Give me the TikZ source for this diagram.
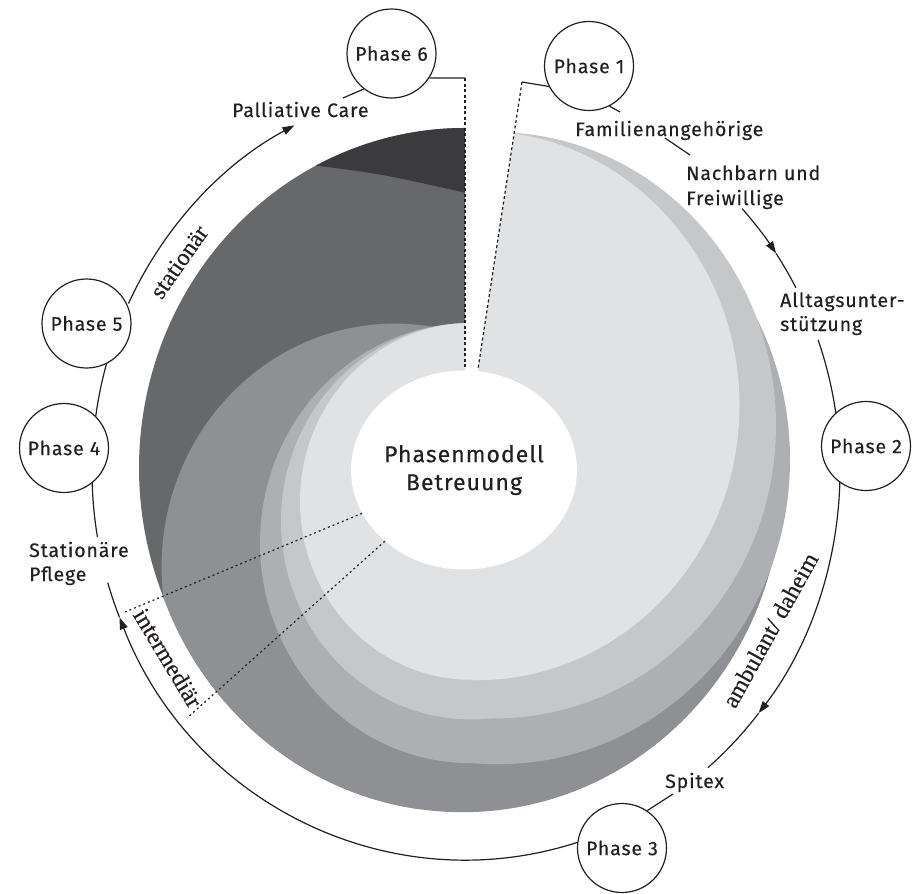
\documentclass[tikz,border=0pt]{standalone}
\usepackage{fontspec}
\usetikzlibrary{arrows.meta,shapes.geometric}
\newfontfamily\labfont[LetterSpace=4.5,FakeBold=0.35]{Fira Sans}
\newfontfamily\serfont[FakeBold=0.3]{Liberation Serif}
\definecolor{cLa}{HTML}{E1E2E4}
\definecolor{cLb}{HTML}{C6C7C9}
\definecolor{cLc}{HTML}{AEAFB2}
\definecolor{cLd}{HTML}{8F9093}
\definecolor{cLe}{HTML}{67686A}
\definecolor{cLf}{HTML}{3B3A3C}
\definecolor{ink}{HTML}{231F20}
\begin{document}
\begin{tikzpicture}[x=1pt,y=-1pt,
  phase/.style={circle,draw=ink,line width=1.2pt,fill=white,minimum size=89pt,inner sep=0pt,
    font=\labfont\fontsize{19.5}{24}\selectfont,text=ink},
  lab/.style={font=\labfont\fontsize{19.5}{24}\selectfont,text=ink,inner sep=0pt},
  ser/.style={font=\serfont\fontsize{24}{26}\selectfont,text=ink,inner sep=0pt},
  ringline/.style={draw=ink,line width=1.2pt},
  cutline/.style={draw=ink,line width=1.2pt,dash pattern=on 3pt off 2.5pt},
  dotline/.style={draw=ink,line width=1.2pt,dash pattern=on 2pt off 3pt},
  tip/.style={-{Triangle[length=12pt,width=8pt]}}
]
\useasboundingbox (0,0) rectangle (922,894);
\fill[white] (0,0) rectangle (922,894);

% ---------------- spiral ----------------
\begin{scope}[shift={(465,468)},yscale=-1.043]
  \fill[cLe] (0,326) arc[start angle=90,end angle=202.3,radius=326] -- (-70,-95) -- (0,0) -- cycle;
  \fill[cLf] (117.2:326) arc[start angle=117.2,end angle=90,radius=326] -- (0,264)
     .. controls (-84,282) .. (117.2:326) -- cycle;
  \begin{scope}
    \clip (-2.5,-10) circle[radius=320];
    \fill[cLd] (-70,-95) circle[radius=233.4];
    \fill[cLd] (-301.6,-123.7) -- (-70,-95) -- (6,0) -- (6,150) -- (400,150) -- (400,-400) -- (-400,-400) -- cycle;
  \end{scope}
  \begin{scope}
    \clip (6,-400) rectangle (400,400);
    \fill[cLc] (33,8) circle[radius=292];
  \end{scope}
  \fill[cLc] (6,-72) circle[radius=211];
  \begin{scope}
    \clip (6,-400) rectangle (400,400);
    \fill[cLb] (30,41) circle[radius=281];
  \end{scope}
  \fill[cLb] (6,-51) circle[radius=190];
  \begin{scope}
    \clip (6,-400) rectangle (400,400);
    \fill[cLa] (11,60) circle[radius=263.5];
  \end{scope}
  \fill[cLa] (6,-32) circle[radius=171];
\end{scope}

% white gap between the cuts
\fill[white] (465,60) -- (525.4,60) -- (473.2,400) -- (465,400) -- cycle;

% centre
\node[ellipse,fill=white,minimum width=192pt,minimum height=199pt,inner sep=0pt,align=center,
  font=\labfont\fontsize{23}{28}\selectfont,text=ink] (ctr) at (464,470) {Phasenmodell\\Betreuung};

% cut lines
\coordinate (c6top) at (465,78);
\coordinate (c6bot) at (465,368);
\coordinate (c1top) at (522,82);
\coordinate (c1bot) at (478,369);
\draw[cutline] (c6top) -- (c6bot);
\draw[cutline] (c1top) -- (c1bot);
\coordinate (d1end) at (125,612);
\coordinate (d2end) at (187,718);
\draw[dotline] (ctr.203) -- (d1end);
\draw[dotline] (ctr.222) -- (d2end);

% ---------------- ring ----------------
\begin{scope}[shift={(466,471)},yscale=-1.04]
  \coordinate (a1) at (154.5:374);
  \coordinate (a2) at (117.3:374);
  \coordinate (b1) at (164:374);
  \coordinate (b2) at (172:374);
  \coordinate (e1) at (181.7:374);
  \coordinate (e2) at (189.8:374);
  \coordinate (f1) at (-72.3:374);
  \coordinate (f2) at (-157.9:374);
  \coordinate (h1) at (42.4:374);
  \coordinate (h2) at (34:374);
  \coordinate (i1) at (19.7:374);
  \coordinate (i2) at (8.5:374);
  \coordinate (j1) at (-1.5:374);
  \coordinate (j2) at (-38.5:374);
  \draw[ringline,tip] (a1) arc[start angle=154.5,end angle=117.3,radius=374];
  \draw[ringline] (b1) arc[start angle=164,end angle=172,radius=374];
  \draw[ringline] (e1) arc[start angle=181.7,end angle=189.8,radius=374];
  \draw[ringline,tip] (f1) arc[start angle=-72.3,end angle=-157.9,radius=374];
  \draw[ringline] (f2) arc[start angle=-157.9,end angle=-163.3,radius=374];
  \draw[ringline,tip] (h1) arc[start angle=42.4,end angle=34,radius=374];
  \draw[ringline] (h2) arc[start angle=34,end angle=28.1,radius=374];
  \draw[ringline] (i1) arc[start angle=19.7,end angle=8.5,radius=374];
  \draw[ringline,tip] (j1) arc[start angle=-1.5,end angle=-38.5,radius=374];
  \draw[ringline] (j2) arc[start angle=-38.5,end angle=-49.7,radius=374];
\end{scope}

% phase circles
\node[phase] (p1) at (589,66) {Phase 1};
\node[phase] (p2) at (866,446) {Phase 2};
\node[phase] (p3) at (622,848) {Phase 3};
\node[phase] (p4) at (64,448) {Phase 4};
\node[phase] (p5) at (86.5,323.5) {Phase 5};
\node[phase] (p6) at (391.5,53.5) {Phase 6};

% labels
\node[lab,anchor=base west] (pall) at (232,117) {Palliative Care};
\node[lab,anchor=base west] (fam) at (575,136) {Familienangehörige};
\node[lab,anchor=base west] (nach) at (686,180) {Nachbarn und};
\node[lab,anchor=base west] (frei) at (686,205) {Freiwillige};
\node[lab,anchor=base west] (allt) at (780,307) {Alltagsunter-};
\node[lab,anchor=base west] (stue) at (780,331) {stützung};
\node[lab,anchor=base west] (spit) at (665,788) {Spitex};
\node[lab,anchor=base west] (stat) at (29,557) {Stationäre};
\node[lab,anchor=base west] (pfl) at (29,581) {Pflege};

% short connectors
\coordinate (pl1) at (343,98);
\draw[ringline] (pl1) -- (p6.232);
\draw[ringline] (p6.-33.5) -- (c6top);
\draw[ringline] (p1.207) -- (c1top);
\coordinate (fm1) at (620,112);
\draw[ringline] (p1.297) -- (fm1);
\coordinate (fm2) at (665,138);
\coordinate (nb1) at (690,155);
\draw[ringline] (fm2) -- (nb1);
\coordinate (sp1) at (673,794);
\draw[ringline] (sp1) -- (p3.56);

% rotated serif labels
\node[ser,rotate=55] (lstat) at (179,262) {stationär};
\node[ser,rotate=61] (lamb) at (770,630) {ambulant/ daheim};
\node[ser,rotate=-59] (linter) at (168,658) {intermediär};
\end{tikzpicture}
\end{document}
